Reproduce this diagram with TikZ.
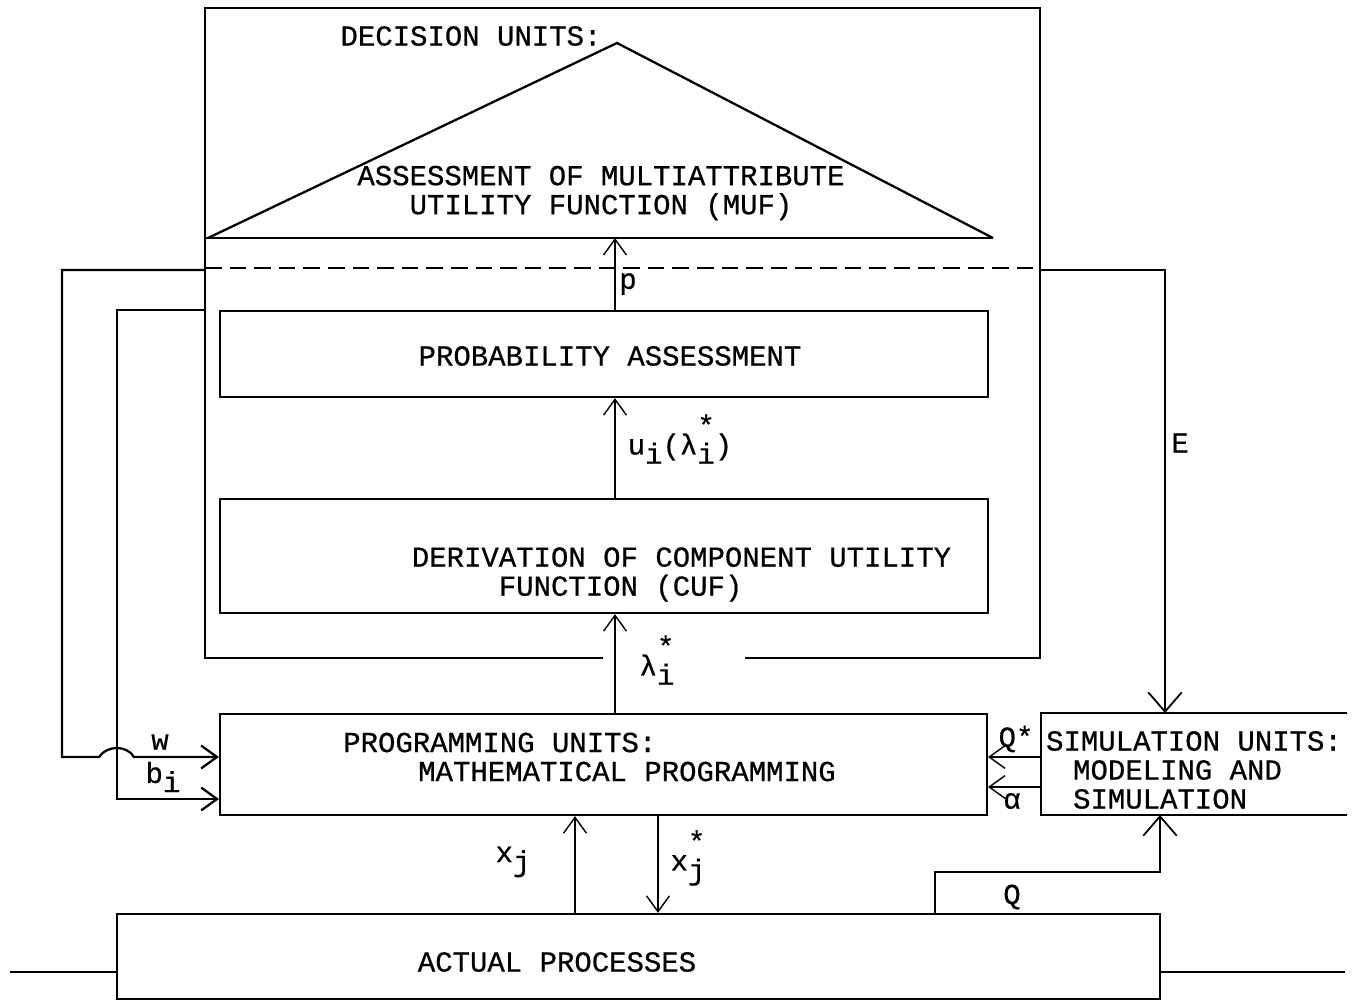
\documentclass[tikz,border=0pt]{standalone}
\usepackage{fontspec}
\newfontfamily\typewr[FakeBold=0.6]{Liberation Mono}
\usetikzlibrary{arrows.meta}
\newcommand{\lowr}[1]{\raisebox{-0.6ex}{#1}}
\newcommand{\lowst}[1]{\makebox[0pt][l]{\raisebox{1.25ex}{*}}\raisebox{-0.6ex}{#1}}

\tikzset{
  frame/.style={line width=1.3pt},
  unitbox/.style={draw,line width=1.3pt,inner sep=0pt},
  flow/.style={line width=0.8pt,-{Straight Barb[length=9pt,width=13pt]}},
  feed/.style={line width=1.3pt,-{Straight Barb[length=9pt,width=13pt]}},
  bigflow/.style={line width=1pt,-{Straight Barb[length=11pt,width=19pt]}},
  txt/.style={font=\typewr\fontsize{16.5}{16.5}\selectfont,inner sep=0pt},
  lbl/.style={font=\typewr\fontsize{16.5}{16.5}\selectfont,inner sep=0pt}
}

\begin{document}
\begin{tikzpicture}[x=0.02cm,y=-0.02cm]
    \useasboundingbox (0,0) rectangle (1357,1001);

    % decision units frame and triangle
    \draw[frame] (603,658) -- (205,658) -- (205,8) -- (1040,8) -- (1040,658) -- (745,658);
    \coordinate (apex) at (617,43);
    \coordinate (baseL) at (205,238);
    \coordinate (baseR) at (993,238);
    \draw[frame] (208,238) -- (apex) -- (baseR);
    \draw[frame] (baseL) -- (baseR);
    \draw[line width=1.7pt,dash pattern=on 9.5pt off 4.5pt] (205,268) -- (1040,268);
    \node[txt] (dec) at (471,36) {DECISION UNITS:};
    \node[txt,align=center] (muf) at (601,193) {ASSESSMENT OF MULTIATTRIBUTE\\UTILITY FUNCTION (MUF)};

    % boxes
    \node[unitbox,minimum width=15.36cm,minimum height=1.72cm] (prob) at (604,354) {};
    \node[txt] at (610,356) {PROBABILITY ASSESSMENT};
    \node[unitbox,minimum width=15.36cm,minimum height=2.28cm] (deriv) at (604,556) {};
    \node[txt,align=left] at (681.5,574.5) {DERIVATION OF COMPONENT UTILITY\\\hspace*{1.74cm}FUNCTION (CUF)};
    \node[unitbox,minimum width=15.34cm,minimum height=2.02cm] (prog) at (603.5,764.5) {};
    \node[txt,align=left] at (589.5,757) {PROGRAMMING UNITS:\\\hspace*{1.5cm}MATHEMATICAL PROGRAMMING};
    \node[unitbox,minimum width=20.86cm,minimum height=1.7cm] (act) at (638.5,956.5) {};
    \node[txt] at (557,962) {ACTUAL PROCESSES};

    % simulation units (open to the right)
    \coordinate (simNW) at (1041,713);
    \coordinate (simSW) at (1041,815);
    \draw[frame] (1347,713) -- (simNW) -- (simSW) -- (1347,815);
    \node[txt,align=left] (sim) at (1194,770) {SIMULATION UNITS:\\\hspace*{0.54cm}MODELING AND\\\hspace*{0.54cm}SIMULATION};

    % vertical column
    \coordinate (colA) at (615,0);
    \draw[flow] (prob.north -| colA) -- (baseL -| colA);
    \node[lbl] at (628,284) {p};
    \draw[flow] (deriv.north -| colA) -- (prob.south -| colA);
    \node[lbl] at (680,439) {u\lowr{i}(λ\lowst{i})};
    \draw[flow] (prog.north -| colA) -- (deriv.south -| colA);
    \node[lbl] at (657,660) {λ\lowst{i}};

    % feedback to programming units
    \coordinate (fbA) at (62,270);
    \coordinate (fbB) at (117,310);
    \draw[feed] (205,270) -- (fbA) -- (62,757) -- (99,757)
        .. controls (107,745) and (127,745) .. (134,757) -- (prog.west |- 0,757);
    \node[lbl] at (160,742) {w};
    \draw[feed] (205,310) -- (fbB) -- (117,799) -- (prog.west |- 0,799);
    \node[lbl] at (163,777) {b\lowr{i}};

    % E to simulation units
    \coordinate (eA) at (1165,270);
    \draw[bigflow] (1040,270) -- (eA) -- (eA |- simNW);
    \node[lbl] at (1180,443) {E};

    % Q* and alpha
    \coordinate (qs) at (1041,757);
    \coordinate (al) at (1041,787);
    \draw[flow] (qs) -- (qs -| prog.east);
    \node[lbl] at (1016,739) {Q*};
    \draw[flow] (al) -- (al -| prog.east);
    \node[lbl] at (1012,801) {α};

    % x_j and x_j^*
    \coordinate (xa) at (575,0);
    \coordinate (xb) at (658,0);
    \draw[flow] (act.north -| xa) -- (prog.south -| xa);
    \node[lbl] at (513,862) {x\lowr{j}};
    \draw[flow] (prog.south -| xb) -- (act.north -| xb);
    \node[lbl] at (688,858) {x\lowst{j}};

    % Q to simulation units
    \coordinate (qa) at (935,0);
    \draw[bigflow] (act.north -| qa) -- (935,872) -- (1160,872) -- (1160,815);
    \node[lbl] at (1012,897) {Q};

    % process in and out
    \coordinate (inL) at (10,972);
    \coordinate (outR) at (1345,972);
    \draw[frame] (inL) -- (inL -| act.west);
    \draw[frame] (act.east |- outR) -- (outR);
\end{tikzpicture}
\end{document}
